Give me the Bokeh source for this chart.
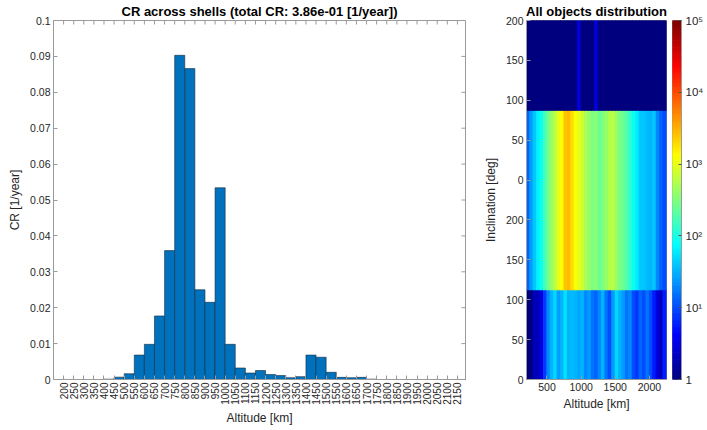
import numpy as np
import pandas as pd
from bokeh.plotting import figure
from bokeh.models import (ColumnDataSource, FixedTicker, Range1d,
                          LogColorMapper, CustomJSTickFormatter)
from bokeh.layouts import row
from bokeh.embed import file_html
from bokeh.resources import INLINE

# ---------------- data ----------------
# Left chart: collision rate per altitude shell (left edge of 50 km shell)
shell_left = list(range(200, 2200, 50))
cr_values = [0, 0, 0, 0, 0.0001, 0.00065, 0.0016, 0.0068, 0.0098, 0.0177,
             0.0359, 0.0903, 0.0866, 0.0250, 0.0215, 0.0534, 0.0098, 0.0032,
             0.0018, 0.0025, 0.0014, 0.0011, 0.0005, 0.0008, 0.0068, 0.0062,
             0.0020, 0.0006, 0.0005, 0.0006, 0.0001, 0, 0, 0, 0, 0, 0, 0, 0, 0]
alt_tick_labels = [str(a) for a in range(200, 2200, 50)]
cr_ticks = [0, 0.01, 0.02, 0.03, 0.04, 0.05, 0.06, 0.07, 0.08, 0.09, 0.1]

# Right chart: object counts per altitude column for three stacked bands
col_left = list(range(200, 2250, 50))
band_bottom = [0, 112.5, 337.5]
band_top = [112.5, 337.5, 450]
counts_low = [1, 1, 2, 2, 3, 8, 20, 32, 50, 25, 32, 56, 32, 35, 32, 28, 32, 20,
              25, 16, 13, 20, 32, 16, 10, 25, 50, 32, 25, 16, 20, 10, 8, 13, 10,
              16, 10, 6, 3, 2, 6]
counts_mid = [13, 25, 40, 63, 89, 158, 282, 398, 631, 1000, 1259, 2512, 2818,
              1995, 1259, 1000, 794, 501, 398, 316, 355, 251, 316, 398, 562, 631,
              398, 316, 251, 200, 126, 89, 63, 40, 40, 35, 32, 40, 20, 13, 10]
counts_top = [1] * 15 + [3] + [1] * 4 + [3] + [1] * 20
inc_tick_pos = [0, 50, 100, 150, 200, 250, 300, 350, 400, 450]
inc_tick_labels = ["0", "50", "100", "150", "200", "0", "50", "100", "150", "200"]
alt_ticks_right = [500, 1000, 1500, 2000]
cbar_ticks = [1, 10, 100, 1000, 10000, 100000]
cbar_labels = ["1", "10\u00b9", "10\u00b2", "10\u00b3", "10\u2074", "10\u2075"]

# ---------------- style ----------------
FONT = "Liberation Sans"
TXT = "#262626"
AX = "#9a9a9a"
TOP, BOTTOM, H = 20, 49, 428


def jet(n=256):
    out = []
    for t in np.linspace(0, 1, n):
        r = np.clip(1.5 - abs(4 * t - 3), 0, 1)
        g = np.clip(1.5 - abs(4 * t - 2), 0, 1)
        b = np.clip(1.5 - abs(4 * t - 1), 0, 1)
        out.append("#%02x%02x%02x" % (int(r * 255), int(g * 255), int(b * 255)))
    return out


def style_axis(ax, size="10.5px"):
    ax.axis_line_color = AX
    ax.major_tick_line_color = AX
    ax.minor_tick_line_color = None
    ax.major_tick_in = 4
    ax.major_tick_out = 0
    ax.major_label_text_font = FONT
    ax.major_label_text_font_size = size
    ax.major_label_text_color = TXT
    ax.axis_label_text_font = FONT
    ax.axis_label_text_font_size = "12px"
    ax.axis_label_text_font_style = "normal"
    ax.axis_label_text_color = TXT


def style_title(p, text):
    p.title.text = text
    p.title.align = "center"
    p.title.text_font = FONT
    p.title.text_font_size = "13px"
    p.title.text_font_style = "bold"
    p.title.text_color = "#000000"
    p.title.standoff = 3


# ---------------- left figure ----------------
X1 = (150, 2190)
Y1 = (0, 0.1)
p1 = figure(width=480, height=H, output_backend="svg", toolbar_location=None,
            x_range=Range1d(*X1), y_range=Range1d(*Y1),
            min_border_left=53, min_border_right=15, min_border_top=TOP,
            min_border_bottom=BOTTOM)
p1.grid.visible = False
p1.outline_line_color = AX
style_title(p1, "CR across shells (total CR: 3.86e-01 [1/year])")

src1 = ColumnDataSource(dict(left=shell_left, right=[a + 50 for a in shell_left],
                             top=cr_values, bottom=[0] * len(cr_values)))
p1.quad(left="left", right="right", top="top", bottom="bottom", source=src1,
        fill_color="#0072BD", line_color="#1a2a3a", line_width=0.6)

p1.xaxis.ticker = FixedTicker(ticks=shell_left)
p1.xaxis.major_label_overrides = {a: l for a, l in zip(shell_left, alt_tick_labels)}
p1.xaxis.major_label_orientation = np.pi / 2
p1.xaxis.axis_label = "Altitude [km]"
p1.xaxis.axis_label_standoff = 3
p1.xaxis.major_label_standoff = 3
p1.yaxis.ticker = FixedTicker(ticks=cr_ticks)
p1.yaxis.formatter = CustomJSTickFormatter(
    code="var s = tick.toFixed(2).replace(/0+$/, ''); return s.replace(/\\.$/, '');")
p1.yaxis.axis_label = "CR [1/year]"
p1.yaxis.axis_label_standoff = 5
p1.yaxis.major_label_standoff = 3
for ax in p1.xaxis + p1.yaxis:
    style_axis(ax)
p1.xaxis.major_label_text_font_size = "10px"

# inner ticks on the top and right edges of the box (4 px long)
frame_w1 = 480 - 53 - 15
frame_h1 = H - TOP - BOTTOM
dy = 4 * (Y1[1] - Y1[0]) / frame_h1
dx = 4 * (X1[1] - X1[0]) / frame_w1
p1.segment(x0=shell_left, x1=shell_left, y0=[Y1[1]] * len(shell_left),
           y1=[Y1[1] - dy] * len(shell_left), line_color=AX, line_width=1)
p1.segment(x0=[X1[1]] * len(cr_ticks), x1=[X1[1] - dx] * len(cr_ticks),
           y0=cr_ticks, y1=cr_ticks, line_color=AX, line_width=1)

# ---------------- right figure (heat map) ----------------
palette = jet(256)
mapper = LogColorMapper(palette=palette, low=1, high=100000)

rows = []
for b, t, cnts in zip(band_bottom, band_top, [counts_low, counts_mid, counts_top]):
    for x0, c in zip(col_left, cnts):
        rows.append(dict(left=x0, right=x0 + 50, bottom=b, top=t, count=c))
df = pd.DataFrame(rows)

X2 = (200, 2250)
Y2 = (0, 450)
p2 = figure(width=192, height=H, output_backend="svg", toolbar_location=None,
            x_range=Range1d(*X2), y_range=Range1d(*Y2),
            min_border_left=42, min_border_right=6, min_border_top=TOP,
            min_border_bottom=BOTTOM)
p2.grid.visible = False
p2.outline_line_color = AX
style_title(p2, "All objects distribution")
p2.quad(left="left", right="right", bottom="bottom", top="top",
        source=ColumnDataSource(df),
        fill_color={"field": "count", "transform": mapper},
        line_color={"field": "count", "transform": mapper}, line_width=1.2)

p2.xaxis.ticker = FixedTicker(ticks=alt_ticks_right)
p2.xaxis.axis_label = "Altitude [km]"
p2.xaxis.axis_label_standoff = 3
p2.xaxis.major_label_standoff = 3
p2.yaxis.ticker = FixedTicker(ticks=inc_tick_pos)
p2.yaxis.major_label_overrides = {pos: lab for pos, lab in zip(inc_tick_pos, inc_tick_labels)}
p2.yaxis.axis_label = "Inclination [deg]"
p2.yaxis.axis_label_standoff = 5
p2.yaxis.major_label_standoff = 3
for ax in p2.xaxis + p2.yaxis:
    style_axis(ax)

# ---------------- colour bar (its own narrow figure) ----------------
n = len(palette)
edges = [10 ** (5 * i / n) for i in range(n + 1)]
p3 = figure(width=34, height=H, output_backend="svg", toolbar_location=None,
            x_range=Range1d(0, 1), y_range=Range1d(1, 100000), y_axis_type="log",
            y_axis_location="right",
            min_border_left=0, min_border_right=23, min_border_top=TOP,
            min_border_bottom=BOTTOM)
p3.grid.visible = False
p3.xaxis.visible = False
p3.outline_line_color = AX
p3.quad(left=[0] * n, right=[1] * n, bottom=edges[:-1], top=edges[1:],
        fill_color=palette, line_color=palette, line_width=1)
p3.yaxis.ticker = FixedTicker(ticks=cbar_ticks)
p3.yaxis.major_label_overrides = {t: l for t, l in zip(cbar_ticks, cbar_labels)}
style_axis(p3.yaxis[0], "11.5px")
p3.yaxis.major_tick_in = 3
p3.yaxis.major_label_standoff = 4
p3.yaxis.major_tick_line_color = "#555555"

layout = row(p1, p2, p3)
open("out.html", "w").write(file_html(layout, INLINE))
